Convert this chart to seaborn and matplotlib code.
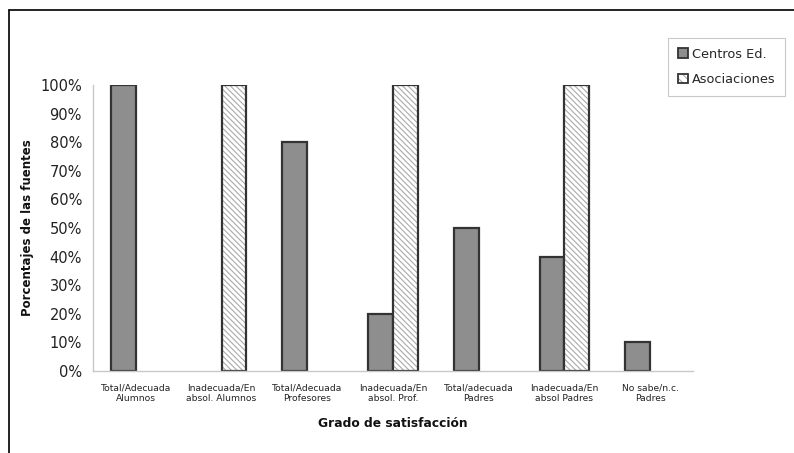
import matplotlib
matplotlib.use("Agg")
import matplotlib.pyplot as plt
import matplotlib.colors as mcolors
from matplotlib.lines import Line2D
from matplotlib.patches import Patch
from matplotlib.ticker import PercentFormatter
import seaborn as sns
import pandas as pd

categorias = [
    "Total/Adecuada\nAlumnos",
    "Inadecuada/En\nabsol. Alumnos",
    "Total/Adecuada\nProfesores",
    "Inadecuada/En\nabsol. Prof.",
    "Total/adecuada\nPadres",
    "Inadecuada/En\nabsol Padres",
    "No sabe/n.c.\nPadres",
]
centros = [100, 0, 80, 20, 50, 40, 10]
asociaciones = [0, 100, 0, 100, 0, 100, 0]
series = ["Centros Ed.", "Asociaciones"]

df = pd.DataFrame({
    "categoria": categorias * 2,
    "fuente": [series[0]] * len(categorias) + [series[1]] * len(categorias),
    "valor": centros + asociaciones,
})

sns.set_style("white")
plt.rcParams["font.family"] = ["DejaVu Sans"]
plt.rcParams["hatch.linewidth"] = 0.8

W, H = 794, 453
fig = plt.figure(figsize=(W / 100, H / 100), dpi=100)
ax = fig.add_axes([93 / W, 1 - 371 / H, 600 / W, (371 - 85) / H])

gris = "#8e8e8e"
borde = "#333333"
trama = mcolors.to_rgba("#aaaaaa")
sns.barplot(data=df, x="categoria", y="valor", hue="fuente", order=categorias,
            hue_order=series, palette=[gris, "white"], width=0.58,
            edgecolor=borde, linewidth=1.6, legend=False, ax=ax)

# light diagonal hatch on the second series, hide empty bars
for cont, name in zip(ax.containers, series):
    for bar in cont:
        if name == "Asociaciones":
            bar.set_hatch("\\\\\\\\\\\\")
            bar._hatch_color = trama
        if bar.get_height() == 0:
            bar.set_visible(False)

ax.set_ylim(0, 100)
ax.set_xlim(-0.5, len(categorias) - 0.5)
ax.yaxis.set_major_locator(plt.MultipleLocator(10))
ax.yaxis.set_major_formatter(PercentFormatter(100, decimals=0))

for side in ["top", "right"]:
    ax.spines[side].set_visible(False)
for side in ["left", "bottom"]:
    ax.spines[side].set_color("#c8c8c8")
    ax.spines[side].set_linewidth(1.0)

ax.set_xticks([i + 0.5 for i in range(len(categorias))], minor=True)
ax.tick_params(axis="x", which="major", length=0, labelsize=6.6, pad=9, colors="#222222")
ax.tick_params(axis="x", which="minor", length=4, color="#c8c8c8", direction="in")
ax.tick_params(axis="y", length=4, color="#c8c8c8", direction="out", labelsize=10.5,
               colors="#222222", pad=4)

ax.set_xlabel("Grado de satisfacción", fontsize=8.8, fontweight="bold", labelpad=10, color="#111111")
ax.set_ylabel("Porcentajes de las fuentes", fontsize=8.5, fontweight="bold", color="#111111")
ax.yaxis.set_label_coords((34 - 93) / 600, 0.5)

leg_asoc = Patch(facecolor="white", edgecolor=borde, linewidth=1.3, hatch="\\\\\\\\", label=series[1])
handles = [
    Patch(facecolor=gris, edgecolor=borde, linewidth=1.3, label=series[0]),
    leg_asoc,
]
leg = fig.legend(handles=handles, loc="upper left",
                 bbox_to_anchor=(668 / W, 1 - 38 / H), frameon=True,
                 fontsize=9.3, handlelength=0.8, handleheight=0.8,
                 handletextpad=0.3, borderpad=0.75, labelspacing=0.95,
                 borderaxespad=0, fancybox=False)
leg.get_frame().set_edgecolor("#bbbbbb")
leg.get_frame().set_linewidth(0.8)
for h in leg.legend_handles:
    if h.get_hatch():
        h._hatch_color = trama

# outer frame of the chart area
fig.add_artist(Line2D([9 / W, 9 / W], [0, 1 - 10 / H], transform=fig.transFigure,
                      color="#111111", linewidth=1.3))
fig.add_artist(Line2D([9 / W, 1], [1 - 10 / H, 1 - 10 / H], transform=fig.transFigure,
                      color="#111111", linewidth=1.3))

fig.savefig("out.png", dpi=100)
